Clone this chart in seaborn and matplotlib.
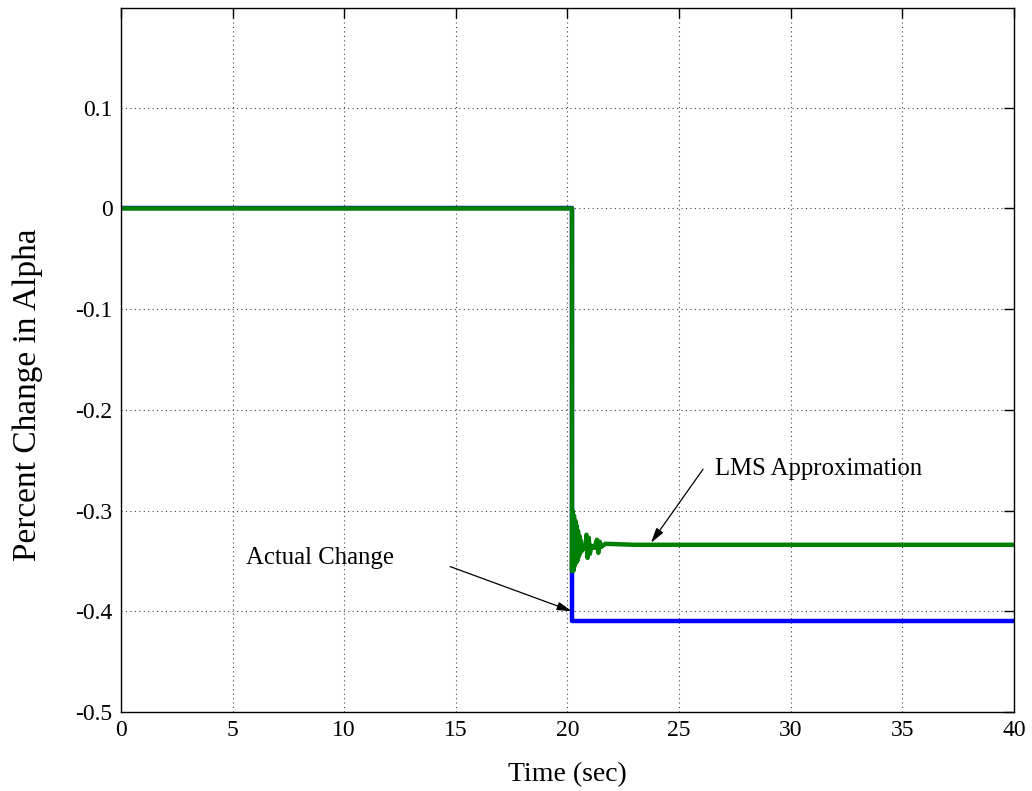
import matplotlib
matplotlib.use("Agg")
import matplotlib.pyplot as plt
import seaborn as sns
import pandas as pd

# Actual parameter change: step at t = 20.2 s
actual_t = [0.0, 20.2, 20.2, 40.0]
actual_v = [0.0, 0.0, -0.41, -0.41]

# LMS estimate: step with a damped transient before settling
lms_t = [0.0, 20.20, 20.20, 20.23, 20.26, 20.29, 20.32, 20.35, 20.38, 20.41,
         20.44, 20.47, 20.50, 20.53, 20.56, 20.60, 20.65, 20.70, 20.80, 20.85,
         20.90, 20.95, 21.00, 21.08, 21.20, 21.32, 21.38, 21.44, 21.52, 21.70,
         23.00, 40.00]
lms_v = [0.0, 0.0, -0.360, -0.300, -0.360, -0.305, -0.355, -0.310, -0.352, -0.315,
         -0.350, -0.320, -0.346, -0.325, -0.343, -0.330, -0.340, -0.336, -0.338, -0.324,
         -0.347, -0.327, -0.343, -0.335, -0.337, -0.329, -0.342, -0.331, -0.336, -0.333,
         -0.334, -0.334]

x_ticks = [0, 5, 10, 15, 20, 25, 30, 35, 40]
y_ticks = [-0.5, -0.4, -0.3, -0.2, -0.1, 0, 0.1]
y_tick_labels = ["-0.5", "-0.4", "-0.3", "-0.2", "-0.1", "0", "0.1"]

sns.set_style("white")
plt.rcParams["font.family"] = ["Liberation Serif", "DejaVu Serif"]
plt.rcParams["text.color"] = "black"
plt.rcParams["axes.labelcolor"] = "black"

fig = plt.figure(figsize=(10.32, 7.91), dpi=100)
ax = fig.add_axes([0.1172, 0.0999, 0.8654, 0.8900])

actual_df = pd.DataFrame({"t": actual_t, "v": actual_v})
lms_df = pd.DataFrame({"t": lms_t, "v": lms_v})

sns.lineplot(data=actual_df, x="t", y="v", ax=ax, color="#0000ff", lw=3.2,
             sort=False, estimator=None)
sns.lineplot(data=lms_df, x="t", y="v", ax=ax, color="#008000", lw=3.2,
             sort=False, estimator=None)

ax.set_xlim(0, 40)
ax.set_ylim(-0.5, 0.199)
ax.set_xticks(x_ticks)
ax.set_xticklabels([str(v) for v in x_ticks])
ax.set_yticks(y_ticks)
ax.set_yticklabels(y_tick_labels)

ax.grid(True, linestyle=(0, (1, 3)), color="#444444", lw=0.8)
ax.set_axisbelow(True)
for s in ax.spines.values():
    s.set_color("black")
    s.set_linewidth(1.0)
    s.set_visible(True)

ax.tick_params(direction="in", length=7, width=1, top=True, right=True,
               labelsize=17, colors="black", pad=6)

ax.set_xlabel("Time (sec)", fontsize=20, labelpad=15, color="black")
ax.set_ylabel("Percent Change in Alpha", fontsize=24, color="black")
ax.yaxis.set_label_coords(-0.087, 0.45)

arrow_kw = dict(arrowstyle="-|>,head_length=0.9,head_width=0.25",
                color="black", lw=0.9, shrinkA=0, shrinkB=0)

ax.text(26.6, -0.259, "LMS Approximation", fontsize=17.8, va="center", ha="left",
        color="black")
ax.annotate("", xy=(23.74, -0.332), xytext=(26.07, -0.259), arrowprops=arrow_kw)

ax.text(5.6, -0.347, "Actual Change", fontsize=17.8, va="center", ha="left",
        color="black")
ax.annotate("", xy=(20.2, -0.400), xytext=(14.74, -0.3556), arrowprops=arrow_kw)

fig.savefig("out.png", dpi=100)
